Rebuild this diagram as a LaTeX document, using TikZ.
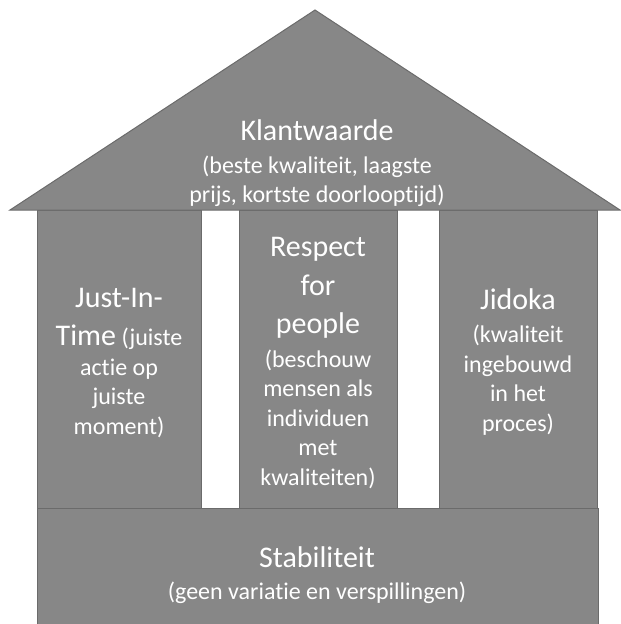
\documentclass[tikz,border=0pt]{standalone}
\usepackage{fontspec}
\setmainfont{Carlito}[Ligatures = NoCommon]
\usepackage{tikz}
\usetikzlibrary{positioning}
\definecolor{housefill}{gray}{0.53}
\definecolor{houseline}{gray}{0.42}
\tikzstyle{part} = [fill = housefill, draw = houseline, line width = 1]
\tikzstyle{pillar} = [
  rectangle, part, inner sep = 0, outer sep = 0,
  minimum height = 298
]
\tikzstyle{caption} = [text = white, align = center,
  font = \fontsize{24}{29.5}\selectfont]
\newcommand{\head}[1]{{\fontsize{30}{36}\selectfont #1}}

\begin{document}
\begin{tikzpicture}[x = 1pt, y = -1pt, node distance = 0]
      \useasboundingbox (0, 0) rectangle (621, 624);
      \clip (0, 0) rectangle (621, 624);

      % pillars
      \node [pillar, anchor = north west, minimum width = 164] (pillar-left) at (37, 210) {};
      \node [pillar, anchor = west, minimum width = 158, right = 38pt of pillar-left] (pillar-mid) {};
      \node [pillar, anchor = west, minimum width = 158, right = 42pt of pillar-mid] (pillar-right) {};
      \node [caption, yshift = -4pt] (left-text) at (pillar-left.center)
        {\head{Just-In-}\\[9pt] \head{Time} (juiste\\ actie op\\ juiste\\ moment)};
      \node [caption, yshift = -4pt] (mid-text) at (pillar-mid.center)
        {\head{Respect}\\[9pt] \head{for}\\[9pt] \head{people}\\[4pt] (beschouw\\ mensen als\\
         individuen\\ met\\ kwaliteiten)};
      \node [caption, yshift = -3pt] (right-text) at (pillar-right.center)
        {\head{Jidoka}\\[4pt] (kwaliteit\\ ingebouwd\\ in het\\ proces)};

      % base
      \coordinate (base-nw) at (37, 508);
      \coordinate (base-se) at (598, 640);
      \draw [part] (base-nw) rectangle (base-se);
      \node [caption] (base-text) at (317, 575)
        {\head{Stabiliteit}\\[2pt] (geen variatie en verspillingen)};

      % roof
      \coordinate (roof-l) at (10, 210);
      \coordinate (roof-top) at (315, 10);
      \coordinate (roof-r) at (620, 210);
      \draw [part, line join = miter] (roof-l) -- (roof-top) -- (roof-r) -- cycle;
      \node [caption, font = \fontsize{24}{28.5}\selectfont] (roof-text) at (317, 163)
        {\head{Klantwaarde}\\[5pt] (beste kwaliteit, laagste\\ prijs, kortste doorlooptijd)};
    \end{tikzpicture}
\end{document}
